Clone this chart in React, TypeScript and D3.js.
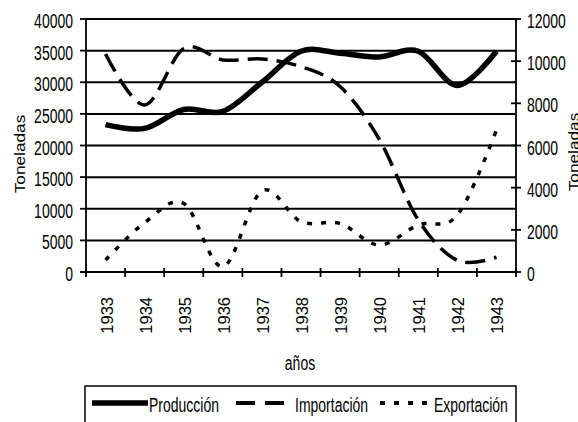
import React, { useRef, useEffect } from 'react';
import * as d3 from 'd3';

// años y series (Producción en eje izquierdo, Importación/Exportación en eje derecho)
const years = ['1933', '1934', '1935', '1936', '1937', '1938', '1939', '1940', '1941', '1942', '1943'];
const produccion = [23300, 22700, 25700, 25400, 30000, 34900, 34600, 34000, 34900, 29500, 34900];
const importacion = [10340, 7920, 10600, 10060, 10100, 9740, 8800, 6300, 2470, 550, 700];
const exportacion = [570, 2340, 3250, 250, 3850, 2390, 2300, 1280, 2230, 2700, 6740];
const leftTicks = [0, 5000, 10000, 15000, 20000, 25000, 30000, 35000, 40000];
const rightTicks = [0, 2000, 4000, 6000, 8000, 10000, 12000];

const FONT = '"Liberation Sans", Arial, sans-serif';

const App: React.FC = () => {
  const svgRef = useRef<SVGSVGElement>(null);

  useEffect(() => {
    if (!svgRef.current) return;
    const svg = d3.select(svgRef.current);
    svg.selectAll('*').remove();

    const left = 86, right = 516, top = 19, bottom = 272;

    const x = d3.scalePoint<string>().domain(years).range([left, right]).padding(0.5);
    const yL = d3.scaleLinear().domain([0, 40000]).range([bottom, top]);
    const yR = d3.scaleLinear().domain([0, 12000]).range([bottom, top]);

    // rejilla horizontal
    svg.append('g')
      .selectAll('line')
      .data(leftTicks)
      .join('line')
      .attr('x1', left).attr('x2', right)
      .attr('y1', d => yL(d)).attr('y2', d => yL(d))
      .attr('stroke', '#000').attr('stroke-width', 2);

    // eje izquierdo
    const gl = svg.append('g');
    gl.append('line').attr('x1', left).attr('x2', left).attr('y1', top).attr('y2', bottom)
      .attr('stroke', '#000').attr('stroke-width', 1.8);
    gl.selectAll('line.t').data(leftTicks).join('line').attr('class', 't')
      .attr('x1', left - 6).attr('x2', left).attr('y1', d => yL(d)).attr('y2', d => yL(d))
      .attr('stroke', '#000').attr('stroke-width', 1.8);
    gl.selectAll('text').data(leftTicks).join('text')
      .attr('transform', d => `translate(73,${yL(d) + 9}) scale(1,1.5)`)
      .attr('text-anchor', 'end')
      .style('font-family', FONT).style('font-size', '14px')
      .text(d => String(d));

    // eje derecho
    const gr = svg.append('g');
    gr.append('line').attr('x1', right).attr('x2', right).attr('y1', top).attr('y2', bottom)
      .attr('stroke', '#000').attr('stroke-width', 1.8);
    gr.selectAll('line.t').data(rightTicks).join('line').attr('class', 't')
      .attr('x1', right - 5).attr('x2', right + 5).attr('y1', d => yR(d)).attr('y2', d => yR(d))
      .attr('stroke', '#000').attr('stroke-width', 1.8);
    gr.selectAll('text').data(rightTicks).join('text')
      .attr('transform', d => `translate(527,${yR(d) + 9}) scale(1,1.5)`)
      .style('font-family', FONT).style('font-size', '14px')
      .text(d => String(d));

    // eje x
    const step = x.step();
    const xTicks = d3.range(years.length + 1).map(i => left + i * step);
    const gx = svg.append('g');
    gx.append('line').attr('x1', left - 6).attr('x2', right).attr('y1', bottom).attr('y2', bottom)
      .attr('stroke', '#000').attr('stroke-width', 1.8);
    gx.selectAll('line.t').data(xTicks).join('line').attr('class', 't')
      .attr('x1', d => d).attr('x2', d => d).attr('y1', bottom - 4).attr('y2', bottom + 5)
      .attr('stroke', '#000').attr('stroke-width', 1.8);
    gx.selectAll('text').data(years).join('text')
      .attr('transform', d => `translate(${(x(d) as number) + 7},297) rotate(-90)`)
      .attr('text-anchor', 'end')
      .style('font-family', FONT).style('font-size', '16.5px')
      .text(d => d);

    // títulos
    svg.append('text')
      .attr('transform', 'translate(300,370) scale(1,1.5)')
      .attr('text-anchor', 'middle')
      .style('font-family', FONT).style('font-size', '14px')
      .text('años');
    svg.append('text')
      .attr('transform', 'translate(25,154) rotate(-90) scale(1.15,1)')
      .attr('text-anchor', 'middle')
      .style('font-family', FONT).style('font-size', '15px')
      .text('Toneladas');
    svg.append('text')
      .attr('transform', 'translate(579,152) rotate(-90) scale(1.15,1)')
      .attr('text-anchor', 'middle')
      .style('font-family', FONT).style('font-size', '15px')
      .text('Toneladas');

    // series
    const lineL = d3.line<number>()
      .x((_, i) => x(years[i]) as number)
      .y(d => yL(d))
      .curve(d3.curveCatmullRom.alpha(0));
    const lineR = d3.line<number>()
      .x((_, i) => x(years[i]) as number)
      .y(d => yR(d))
      .curve(d3.curveCatmullRom.alpha(0));

    svg.append('path').attr('d', lineR(importacion))
      .attr('fill', 'none').attr('stroke', '#000').attr('stroke-width', 3.5)
      .attr('stroke-dasharray', '20,9');
    svg.append('path').attr('d', lineR(exportacion))
      .attr('fill', 'none').attr('stroke', '#000').attr('stroke-width', 3.5)
      .attr('stroke-dasharray', '5,9');
    svg.append('path').attr('d', lineL(produccion))
      .attr('fill', 'none').attr('stroke', '#000').attr('stroke-width', 5.5);

    // leyenda
    const lg = svg.append('g');
    lg.append('rect').attr('x', 85).attr('y', 386).attr('width', 431).attr('height', 60)
      .attr('fill', '#fff').attr('stroke', '#000').attr('stroke-width', 1.5);
    const items = [
      { name: 'Producción', x1: 92, x2: 148, w: 5.5, dash: null as string | null, tx: 149 },
      { name: 'Importación', x1: 236, x2: 285, w: 4, dash: '19,10', tx: 295 },
      { name: 'Exportación', x1: 380, x2: 433, w: 4, dash: '5,9', tx: 434 },
    ];
    items.forEach(it => {
      lg.append('line').attr('x1', it.x1).attr('x2', it.x2).attr('y1', 403).attr('y2', 403)
        .attr('stroke', '#000').attr('stroke-width', it.w)
        .attr('stroke-dasharray', it.dash);
      lg.append('text')
        .attr('transform', `translate(${it.tx},412) scale(1,1.5)`)
        .style('font-family', FONT).style('font-size', '14px')
        .text(it.name);
    });

    return () => {
      svg.selectAll('*').remove();
    };
  }, []);

  return (
    <svg
      ref={svgRef}
      width={578}
      height={422}
      style={{ position: 'absolute', top: 0, left: 0, background: '#fff' }}
    />
  );
};

export default App;
